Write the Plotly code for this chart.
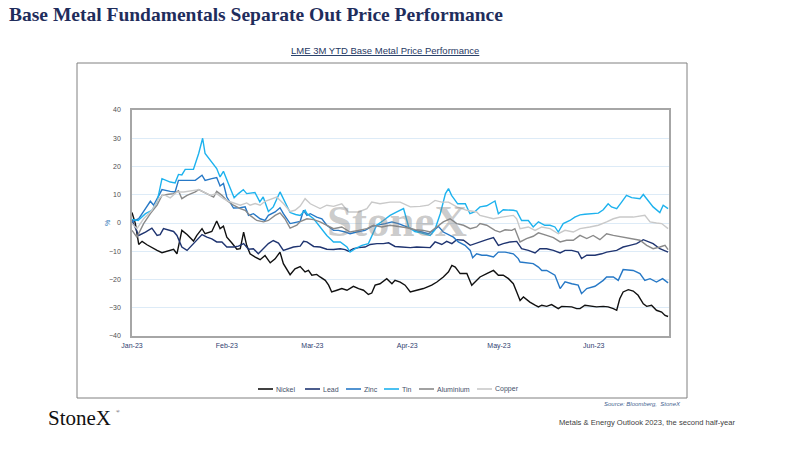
import pandas as pd
import plotly.graph_objects as go

# ---- data: (days since 2023-01-01, % change YTD) ----
START = "2023-01-01"
X_END_DAY = 175.6
MONTH_TICK_FORMAT = "%b-%y"
Y_TICKS = [-40, -30, -20, -10, 0, 10, 20, 30, 40]

SERIES_NAMES = ["Nickel", "Lead", "Zinc", "Tin", "Aluminium", "Copper"]

NICKEL_DAY = [0,1.1,2.2,3.3,4.9,6.5,8.2,9.8,11.4,13.6,
              14.7,16.3,18,20.1,21.2,22.9,23.9,26.1,27.7,28.8,
              29.9,31,32.6,34.3,35.4,36.5,37.5,38.6,40.3,41.9,
              43.5,45.2,46.8,48.4,49.5,51.7,53.3,55,56.6,57.7,
              58.8,60.4,61.5,63.2,64.3,65.3,67,68.6,70.3,72.4,
              74.1,75.7,77.3,78.4,79.5,81.1,83.3,85,86,87.7,
              89.3,91,93.1,95.3,98,99.7,101.8,103.5,104.6,105.7,
              107.3,109.5,111.1,112.7,113.8,116,118.2,119.8,121.4,123.1,
              124.7,125.8,126.9,128,130.1,131.8,132.9,134,135.6,137.2,
              139.4,140.5,143.8,145.4,146.5,148.1,150.3,151.9,154.1,155.7,
              157.4,158.5,159.5,160.6,162.3,163.9,165.5,167.2,168.3,169.9,
              171.5,173.2,174.3,175.3]
NICKEL_PCT = [3.7,-0.2,-7.6,-6.5,-7.7,-8.8,-9.7,-10.5,-10.1,-9.3,
              -10.9,-2.6,-4.1,-6.4,-4.4,-2,-3.8,-3,0.7,-2,
              -1.1,-5,-7,-9.3,-9.1,-3.2,-7.9,-10.9,-12.1,-13,
              -11.5,-14.1,-12.7,-10.3,-14.4,-18.3,-16.2,-15.4,-17.3,-16.8,
              -18.5,-18.2,-19.1,-20.3,-22,-24.4,-23.8,-23.2,-23.8,-22.4,
              -23.2,-23.8,-25.3,-24.8,-22,-21.5,-19.7,-21.5,-20.3,-20.9,
              -22,-24.4,-23.8,-23.2,-22,-20.9,-19.1,-17.3,-15,-15.6,
              -17.9,-17.9,-22,-20.3,-19.1,-17.9,-16.8,-18.5,-18.5,-19.7,
              -21.5,-24.4,-27.4,-26.2,-28,-29.1,-29.7,-29.1,-29.5,-28.9,
              -30.3,-29.5,-29.7,-30.3,-30.3,-29.1,-29.5,-29.7,-29.5,-29.7,
              -30.3,-30.9,-26.8,-24.4,-23.6,-24.1,-25.6,-28.6,-29.5,-29.1,
              -30.9,-31.5,-32.7,-33.1]

LEAD_DAY = [0,2.2,4.4,6.5,8.2,9.2,10.3,12,13.6,14.7,
            16.3,18,20.1,22.9,24.5,26.1,27.7,29.4,31,33.2,
            34.8,36.5,38.1,39.7,41.3,43,44.6,46.2,47.9,49.5,
            51.1,52.8,55,56.1,57.2,59.4,61.5,63.7,65.9,68.1,
            69.7,70.8,72.4,74.1,76.2,77.9,80.1,82.2,83.9,86,
            88.2,91,93.1,95.3,97.5,99.1,101.3,102.9,104.6,106.2,
            108.4,110.6,112.2,113.8,116,118.2,119.8,121.4,123.6,125.8,
            127.4,129.6,131.8,133.4,135.6,137.8,140,141.6,143.8,145.9,
            147,148.7,151.4,153.6,155.2,158.5,160.6,162.8,165,167.2,
            168.8,170.4,172.6,175.3]
LEAD_PCT = [1,-4.4,-3.2,-1.8,-4.4,-4.1,-2,-2.6,-3,-4.4,
            -8.5,-9.7,-7.3,-4.1,-5,-5.6,-6.7,-6.7,-8.5,-8.5,
            -8.2,-7.3,-9.3,-9.1,-10.9,-9.1,-7.3,-6.2,-7.1,-9.7,
            -9.1,-8.5,-8.2,-6.5,-6.7,-8.3,-8.5,-9.3,-9.4,-9.1,
            -9.4,-10,-9.1,-8.7,-8.5,-7.6,-7.3,-7.3,-7,-8.3,
            -8.5,-8.7,-8.5,-8.7,-8.7,-6.7,-7.6,-6.5,-7.3,-5.9,
            -6.1,-7.9,-7.3,-6.5,-5.9,-5.2,-7.9,-7.3,-6.7,-6.5,
            -9.1,-9.7,-10.6,-9.1,-9.1,-9.7,-10.6,-9.7,-9.7,-10.3,
            -12.6,-11.4,-11.4,-10.9,-10.3,-9.7,-8.5,-7.9,-7.3,-5.9,
            -6.7,-7.3,-9.1,-10.3]

ZINC_DAY = [0,2.2,4.4,6,7.1,8.7,9.8,12.5,14.1,15.2,
            18,20.7,22.9,23.9,26.1,27.7,28.8,29.9,31,33.2,
            35.4,37,38.1,39.7,41.9,43.5,44.6,46.8,48.4,49.5,
            51.7,55,56.1,57.2,58.3,60.4,62.1,63.7,65.9,67.5,
            69.7,71.3,73.5,76.2,78.4,80.6,82.8,85,87.1,89.9,
            92.6,94.8,96.9,98.6,100.2,101.8,104,105.1,106.7,108.9,
            110.6,111.4,112.7,114.4,116,118.2,119.8,122,124.7,126.3,
            126.9,129.6,131.2,132.9,134,135.6,138.3,140,141.6,143.8,
            145.9,147,148.7,151.4,154.1,155.2,157.4,159,160.6,163.9,
            166.1,167.7,169.4,171.5,173.5,175.3]
ZINC_PCT = [0.4,1.5,5.1,7.7,6.3,9.8,11.8,11.2,11,15.1,
            15.1,15.1,16.9,15.1,15.7,16.1,13.1,14,9.2,5.3,
            5.4,5.7,2.7,3.3,1.5,0.9,2.7,3.9,5.4,3.3,
            -0.2,0.6,4.5,2.7,3.3,2.1,1.5,-0.8,-2.6,-2.6,
            -3.2,-3.8,-3.2,-2.6,-1.2,-0.8,-0.2,0.4,-0.2,-1.4,
            -2.6,-3.2,-3.8,-2.6,-1.2,-3.2,-4.4,-5,-6.7,-7.9,
            -9.7,-12.3,-10.9,-11.4,-11.4,-12,-10.3,-10.3,-10.9,-12.6,
            -13.8,-14.2,-14.4,-15.6,-16.8,-16.8,-18.5,-23.2,-20.8,-21.5,
            -22,-25,-23.2,-22.4,-20.3,-19.1,-19.1,-20.3,-16.5,-16.8,
            -17.9,-20.3,-19.7,-20.9,-19.7,-21.2]

TIN = [(0,1.3),(2,0.9),(4.4,3.3),(6.5,4.5),(8.2,7.5),(9.8,15.7),(12.5,14.5),(14.1,14.2),
       (15.2,17.2),(16.3,17),(17.4,19),(20.1,19),(21.8,24.6),(23.1,30),(23.9,24.6),(26.1,21.7),
       (27.7,19.3),(28.8,16.3),(29.9,18.3),(31.5,14),(33.4,8.9),(34.8,10.4),(36.4,11.8),(37.5,10.4),
       (40.2,10.8),(41.8,7.5),(42.9,9.2),(44.6,4.1),(46.2,5.7),(48.4,11),(50,7.5),(51.7,3.7),
       (53.5,3),(55,2.7),(56.6,4.5),(57.2,3.3),(59.4,1.5),(61.5,-1.4),(63.7,-4.4),(65.9,-6.7),
       (68.1,-6.7),(70.3,-8.5),(71.3,-10.3),(73,-9.1),(75.2,-7.9),(77.3,-7.3),(78.4,-4.4),(80,-0.8),
       (82.2,0.9),(84.4,2.7),(86.6,3.9),(88.8,5.1),(90.5,-1.5),(92.5,-3),(94.5,-3.5),(96.5,-4.2),
       (97.5,-4.4),(99,-2.5),(100.8,3.3),(102.5,10.4),(103.5,12.2),(104.5,9.8),(106.5,6.8),(109,6.8),
       (110.5,3.3),(112,3.9),(113.8,5.7),(116,6.1),(118.7,7.8),(119.8,3.3),(121.4,4.7),(124.7,4.5),
       (125.8,4.2),(127.4,0.9),(129.6,0.9),(131.2,-1.4),(132.9,0.4),(135,-0.8),(136.7,-0.8),(138.3,-1.4),
       (139.4,-3.2),(141,-0.2),(143.2,0.9),(144.8,2.1),(146.5,2.9),(148.1,3.1),(149.7,3.3),(152.5,3.5),
       (154.1,4.7),(155.7,6.8),(156.8,5.7),(158.5,5.1),(160.1,7.4),(161.7,9.8),(163.4,9),(166.1,8.6),
       (167.2,10.1),(168.3,8.6),(170.4,5.7),(172.6,3.7),(173.7,6.3),(175.3,5.1)]

ALUMINIUM = [(0,-2.6),(1.6,-5),(3.8,-0.2),(6,3.3),(8.2,6.3),(9.8,9.8),(12,10.2),(13.6,10.4),
             (15.2,11.4),(16.3,8.6),(18,9.8),(20.7,11),(21.8,11.8),(23.4,11),(25.6,9.8),(26.7,9.2),
             (27.7,11.2),(29.4,9.8),(31,8),(33.2,6.3),(35.4,5.1),(37,4.5),(38.6,2.7),(40.8,0.9),
             (43,0.4),(44.6,0.9),(46.8,2.7),(48.4,3.6),(50,1.5),(51.7,-1.8),(53.9,-0.8),(55,0.5),
             (57.2,1.5),(59.4,1.2),(61.5,0.4),(63.7,-0.8),(65.9,-2),(68.6,-1.4),(71.3,-3.2),(74.1,-2.6),
             (76.8,-2),(79,-0.8),(81.7,-1.4),(84.4,-0.8),(87.7,-1.2),(89.9,-1.7),(92.6,-2.4),(95.3,-2.6),
             (97.5,-3.2),(99.7,-1.4),(101.8,0.4),(104,1.5),(106.2,-0.2),(108.4,-0.8),(110.6,-2),(112.7,-1.4),
             (113.8,-0.2),(116,-0.8),(118.7,-2.6),(120.3,-3.2),(122,-2.4),(124.2,-2.6),(125.2,-2),(126.9,-6.7),
             (129,-5.5),(131.2,-4.7),(132.9,-3.5),(135.6,-4.4),(137.8,-5.2),(140,-6.7),(142.1,-6.1),(144.3,-6.1),
             (146.5,-4.4),(148.7,-5.5),(150.8,-4.4),(153,-5.9),(155.2,-3.8),(157.4,-4.4),(160.6,-5),(163.9,-5.5),
             (166.1,-6.1),(168.3,-7.9),(170.4,-9.1),(172.6,-8.5),(174.3,-7.9),(175.3,-9.4)]

COPPER = [(0,-0.2),(1.6,-2),(3.8,1.5),(6.5,4.5),(8.7,8.6),(10.3,10.1),(12.5,8.9),(14.7,11),
          (16.9,11),(19,11.4),(21.8,11.8),(23.4,11),(25.6,9.8),(27.7,10.4),(29.9,8.6),(31.6,7.7),
          (33.7,6.9),(35.4,6.3),(37.5,7.1),(38.6,6.3),(40.3,6.9),(41.9,6.3),(43.5,7.7),(45.2,8.4),
          (47.3,9.2),(49.5,6.9),(51.7,4.1),(53.3,4.5),(55,6),(56.6,8.6),(58.3,6.8),(61.5,5.1),
          (63.7,6.3),(65.9,5.9),(68.6,6.8),(70.8,3.9),(74.1,3.9),(76.8,5.1),(78.4,7.4),(81.1,6.8),
          (84.4,7.4),(87.7,7.4),(91,5.7),(94.2,5.9),(96.9,6.3),(99.1,8),(101.3,7.4),(103.5,7.4),
          (106.2,5.7),(109.5,4.5),(112.7,3.9),(113.8,2.7),(118.2,1.5),(120.9,2.1),(124.7,2.7),(125.8,1.5),
          (126.9,-2),(129.6,-1.4),(131.8,-2.6),(134,-1.4),(136.7,-2),(139.4,-3.8),(141.6,-2.6),(144.3,-3.2),
          (146.5,-2),(149.7,-1.4),(152.5,-0.8),(155.2,0.4),(157.4,1.5),(159.5,2.1),(161.7,2.1),(163.9,2.1),
          (167.7,2.7),(169.4,0.4),(171.5,0),(173.2,-0.2),(175.3,-2)]

COLORS = {"Nickel": "#111111", "Lead": "#1F3470", "Zinc": "#2678C6",
          "Tin": "#1DB2EE", "Aluminium": "#8A8A8A", "Copper": "#C9C9C9"}

# ---- build ----
t0 = pd.Timestamp(START)
def to_dates(days):
    return [t0 + pd.Timedelta(days=float(d)) for d in days]

def unzip(pairs):
    return [p[0] for p in pairs], [p[1] for p in pairs]

series = {
    "Nickel": (NICKEL_DAY, NICKEL_PCT),
    "Lead": (LEAD_DAY, LEAD_PCT),
    "Zinc": (ZINC_DAY, ZINC_PCT),
    "Tin": unzip(TIN),
    "Aluminium": unzip(ALUMINIUM),
    "Copper": unzip(COPPER),
}

fig = go.Figure()
for name in SERIES_NAMES:
    d, v = series[name]
    fig.add_trace(go.Scatter(x=to_dates(d), y=v, mode="lines", name=name, showlegend=False,
                             line=dict(color=COLORS[name], width=1.4)))

W, H = 800, 450
L, R, T, B = 132, 131, 110, 114
PW, PH = W - L - R, H - T - B
def PX(x): return (x - L) / PW
def PY(y): return (H - B - y) / PH

SANS = "Liberation Sans, Arial, sans-serif"
SERIF = "Liberation Serif, Times New Roman, serif"

fig.update_layout(
    width=W, height=H, margin=dict(l=L, r=R, t=T, b=B),
    paper_bgcolor="white", plot_bgcolor="white",
    font=dict(family=SANS, size=7, color="#404040"),
    showlegend=False,
    xaxis=dict(type="date", range=[t0, t0 + pd.Timedelta(days=X_END_DAY)],
               tick0=START, dtick="M1", tickformat=MONTH_TICK_FORMAT,
               showgrid=False, showline=True, mirror=True, linecolor="#A6A6A6", linewidth=1.5,
               ticks="", tickfont=dict(size=7, color="#2F4070"), ticklabelstandoff=2),
    yaxis=dict(range=[-40, 40], tickvals=Y_TICKS, showgrid=True, gridcolor="#DDEBF7", gridwidth=1,
               zeroline=False, showline=True, mirror=True, linecolor="#A6A6A6", linewidth=1.5,
               ticks="", tickfont=dict(size=7, color="#505050"), ticklabelstandoff=8),
)

# outer chart frame
fig.add_shape(type="rect", xref="paper", yref="paper",
              x0=PX(77), x1=PX(687), y0=PY(398), y1=PY(63),
              line=dict(color="#808080", width=1), fillcolor="rgba(0,0,0,0)", layer="below")

# legend (compact swatches as in the reference)
LEGEND_X = [258, 305, 346, 384, 419, 477]
LEGEND_Y = 389
for name, lx in zip(SERIES_NAMES, LEGEND_X):
    fig.add_shape(type="line", xref="paper", yref="paper",
                  x0=PX(lx), x1=PX(lx + 15), y0=PY(LEGEND_Y), y1=PY(LEGEND_Y),
                  line=dict(color=COLORS[name], width=1.6))
    fig.add_annotation(xref="paper", yref="paper", showarrow=False, text=name,
                       x=PX(lx + 15.5), y=PY(LEGEND_Y), xanchor="left", yanchor="middle",
                       font=dict(family=SANS, size=7, color="#44506a"))

ann = [
    dict(text="<b>Base Metal Fundamentals Separate Out Price Performance</b>", x=PX(7), y=PY(14),
         xanchor="left", yanchor="middle", font=dict(family=SERIF, size=19.5, color="#1F2D5C")),
    dict(text="<u>LME 3M YTD Base Metal Price Performance</u>", x=PX(385), y=PY(51),
         xanchor="center", yanchor="middle", font=dict(family=SANS, size=9.5, color="#1F3864")),
    dict(text="%", x=PX(107), y=PY(223), xanchor="center", yanchor="middle", textangle=-90,
         font=dict(family=SANS, size=7, color="#2E75B6")),
    dict(text="<b>StoneX</b>", x=PX(397), y=PY(221), xanchor="center", yanchor="middle",
         font=dict(family=SERIF, size=45, color="rgba(130,130,130,0.42)")),
    dict(text="<i>Source: Bloomberg,  StoneX</i>", x=PX(683), y=PY(404), xanchor="right", yanchor="middle",
         font=dict(family=SANS, size=6, color="#3F5F8F")),
    dict(text="StoneX", x=PX(46), y=PY(418), xanchor="left", yanchor="middle",
         font=dict(family=SERIF, size=21, color="#111111")),
    dict(text="®", x=PX(114), y=PY(411), xanchor="left", yanchor="middle",
         font=dict(family=SERIF, size=5, color="#111111")),
    dict(text="Metals & Energy Outlook 2023, the second half-year", x=PX(557), y=PY(422),
         xanchor="left", yanchor="middle", font=dict(family=SANS, size=7.6, color="#404040")),
]
for a in ann:
    fig.add_annotation(xref="paper", yref="paper", showarrow=False, **a)

fig.write_html("out.html", config={"displayModeBar": False},
               post_script="document.body.style.margin='0px';")
